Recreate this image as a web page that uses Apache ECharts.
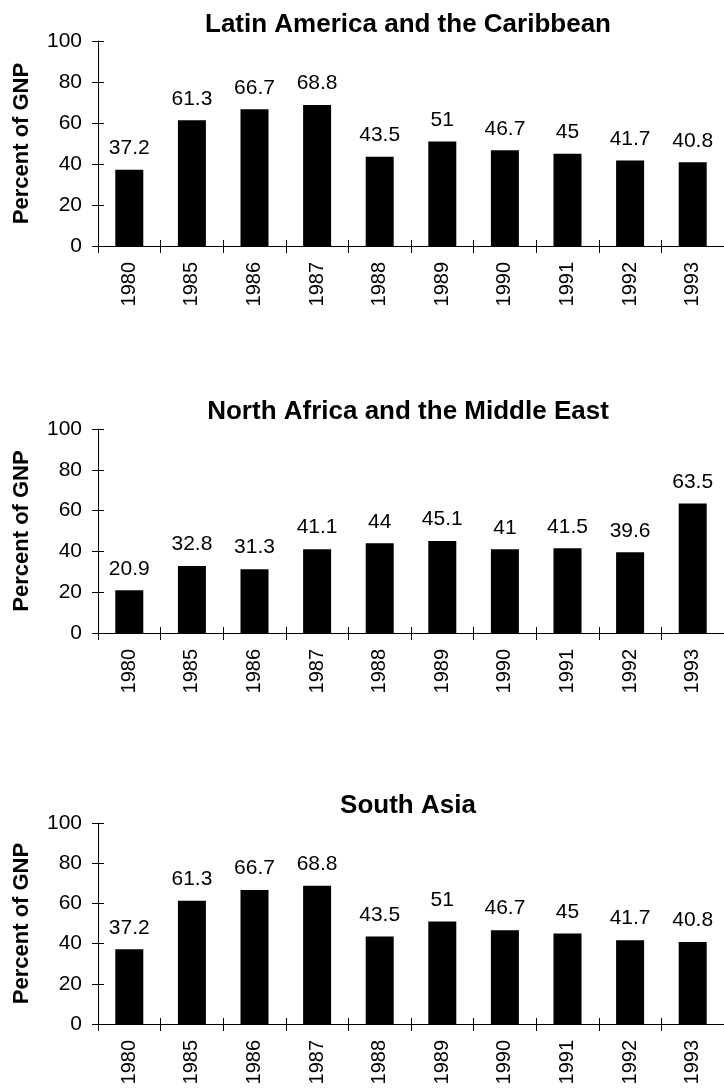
<!DOCTYPE html>
<html>
<head>
<meta charset="utf-8">
<title>Percent of GNP by region</title>
<script src="https://cdn.jsdelivr.net/npm/echarts@6/dist/echarts.min.js"></script>
<style>
  html, body { margin: 0; padding: 0; background: #ffffff; }
  #chart { width: 724px; height: 1089px; }
</style>
</head>
<body>
<div id="chart"></div>
<script>
// Years shown on every panel
const years = ['1980', '1985', '1986', '1987', '1988', '1989', '1990', '1991', '1992', '1993'];

// Percent of GNP per region
const latinAmericaCaribbean = [37.2, 61.3, 66.7, 68.8, 43.5, 51, 46.7, 45, 41.7, 40.8];
const northAfricaMiddleEast = [20.9, 32.8, 31.3, 41.1, 44, 45.1, 41, 41.5, 39.6, 63.5];
const southAsia = [37.2, 61.3, 66.7, 68.8, 43.5, 51, 46.7, 45, 41.7, 40.8];

// Panel titles
const panelTitles = ['Latin America and the Caribbean', 'North Africa and the Middle East', 'South Asia'];

// Value axis range
const yMin = 0;
const yMax = 100;
const yStep = 20;
const yAxisTitle = 'Percent of GNP';

const FONT = '"Liberation Sans", Arial, Helvetica, sans-serif';
const INK = '#000000';

// Layout of the three stacked panels (pixels)
const panels = [
  { values: latinAmericaCaribbean, top: 41, height: 205, titleY: 7 },
  { values: northAfricaMiddleEast, top: 429, height: 204, titleY: 394 },
  { values: southAsia, top: 823, height: 201, titleY: 788 }
];

const grid = [], xAxis = [], yAxis = [], series = [], title = [];

panels.forEach((p, i) => {
  grid.push({ left: 98, right: 0, top: p.top, height: p.height, containLabel: false });

  title.push({
    text: panelTitles[i],
    left: 403,
    top: p.titleY,
    textAlign: 'center',
    textStyle: { fontFamily: FONT, fontSize: 26, fontWeight: 'bold', color: INK }
  });

  // main category axis: line, outward ticks, rotated year labels
  xAxis.push({
    type: 'category',
    gridIndex: i,
    data: years,
    position: 'bottom',
    axisLine: { show: true, lineStyle: { color: INK, width: 1 } },
    axisTick: { show: true, inside: false, length: 7, lineStyle: { color: INK } },
    axisLabel: {
      rotate: 90, margin: 16, interval: 0,
      fontFamily: FONT, fontSize: 20, color: INK
    },
    splitLine: { show: false }
  });
  // companion axis drawing the inward half of each tick
  xAxis.push({
    type: 'category',
    gridIndex: i,
    data: years,
    position: 'bottom',
    axisLine: { show: false },
    axisTick: { show: true, inside: true, length: 6, lineStyle: { color: INK } },
    axisLabel: { show: false },
    splitLine: { show: false }
  });

  yAxis.push({
    type: 'value',
    gridIndex: i,
    position: 'left',
    min: yMin, max: yMax, interval: yStep,
    name: yAxisTitle,
    nameLocation: 'middle',
    nameGap: 65,
    nameTextStyle: { fontFamily: FONT, fontSize: 22, fontWeight: 'bold', color: INK },
    axisLine: { show: true, lineStyle: { color: INK, width: 1 } },
    axisTick: { show: true, inside: false, length: 6, lineStyle: { color: INK } },
    axisLabel: { margin: 16, fontFamily: FONT, fontSize: 21, color: INK },
    splitLine: { show: false }
  });
  yAxis.push({
    type: 'value',
    gridIndex: i,
    position: 'left',
    min: yMin, max: yMax, interval: yStep,
    axisLine: { show: false },
    axisTick: { show: true, inside: true, length: 6, lineStyle: { color: INK } },
    axisLabel: { show: false },
    splitLine: { show: false }
  });

  series.push({
    type: 'bar',
    xAxisIndex: i * 2,
    yAxisIndex: i * 2,
    data: p.values,
    barWidth: 28,
    itemStyle: { color: INK },
    label: {
      show: true,
      position: 'top',
      distance: 11,
      fontFamily: FONT,
      fontSize: 21,
      color: INK
    },
    silent: true,
    animation: false
  });
});

const chart = echarts.init(document.getElementById('chart'), null, { renderer: 'canvas' });
chart.setOption({
  backgroundColor: '#ffffff',
  animation: false,
  title: title,
  grid: grid,
  xAxis: xAxis,
  yAxis: yAxis,
  series: series
});
</script>
</body>
</html>
